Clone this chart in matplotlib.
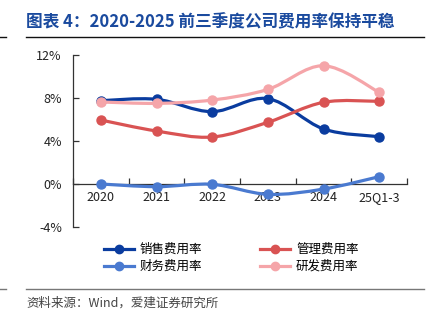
import numpy as np
import matplotlib

matplotlib.use('Agg')
import matplotlib.pyplot as plt
from matplotlib.path import Path
from matplotlib.patches import PathPatch
from matplotlib.lines import Line2D

plt.rcParams['font.family'] = ['Noto Sans CJK SC', 'DejaVu Sans']

# data (% of revenue)
years = ['2020', '2021', '2022', '2023', '2024', '25Q1-3']
sales_rate = [7.75, 7.88, 6.73, 7.94, 5.12, 4.40]
admin_rate = [5.95, 4.93, 4.37, 5.74, 7.60, 7.69]
finance_rate = [0.00, -0.25, -0.03, -0.96, -0.47, 0.68]
rd_rate = [7.63, 7.50, 7.81, 8.80, 11.00, 8.53]

series_names = ['销售费用率', '管理费用率', '财务费用率', '研发费用率']
series_colors = ['#0A3C9F', '#D95353', '#4A7AD0', '#F5A5A9']
y_ticks = [-4, 0, 4, 8, 12]


def smooth_path(xs, ys):
    # bezier through every point, control points from neighbours (office style smoothing)
    pts = np.column_stack([xs, ys]).astype(float)
    n = len(pts)
    verts = [pts[0]]
    codes = [Path.MOVETO]
    for i in range(n - 1):
        p0 = pts[max(i - 1, 0)]
        p1 = pts[i]
        p2 = pts[i + 1]
        p3 = pts[min(i + 2, n - 1)]
        c1 = p1 + (p2 - p0) / 6.0
        c2 = p2 - (p3 - p1) / 6.0
        verts += [c1, c2, p2]
        codes += [Path.CURVE4] * 3
    return Path(verts, codes)


fig = plt.figure(figsize=(4.36, 3.29), dpi=100)
ax = fig.add_axes([73 / 436, 1 - 227 / 329, 334 / 436, 172 / 329])

x = np.arange(len(years))
all_series = [sales_rate, admin_rate, finance_rate, rd_rate]
for k, (vals, col) in enumerate(zip(all_series, series_colors)):
    patch = PathPatch(smooth_path(x, vals), facecolor='none', edgecolor=col,
                      lw=2.3, capstyle='round', joinstyle='round', zorder=3 + k * 0.1)
    ax.add_patch(patch)
    ax.plot(x, vals, ls='none', marker='o', ms=6.5, color=col, zorder=3.05 + k * 0.1)

ax.set_xlim(-0.5, len(years) - 0.5)
ax.set_ylim(-4, 12)
ax.set_yticks(y_ticks)
ax.set_yticklabels(['%d%%' % v for v in y_ticks])
ax.set_xticks(x)
ax.set_xticklabels(years)
ax.set_xticks(np.arange(-0.5, len(years), 1), minor=True)

for s in ['top', 'right']:
    ax.spines[s].set_visible(False)
ax.spines['bottom'].set_position(('data', 0))
ax.spines['left'].set_color('#333333')
ax.spines['bottom'].set_color('#333333')
ax.spines['left'].set_linewidth(0.9)
ax.spines['bottom'].set_linewidth(0.9)

ax.tick_params(axis='y', direction='in', length=4, width=0.9, color='#333333',
               labelsize=9, labelcolor='#222222', pad=8)
ax.tick_params(axis='x', which='major', length=0, labelsize=9, labelcolor='#222222', pad=5)
ax.tick_params(axis='x', which='minor', direction='in', length=4, width=0.9, color='#333333')

# legend
handles = [Line2D([], [], color=c, lw=2.3, marker='o', ms=6) for c in series_colors]
order = [0, 2, 1, 3]
fig.legend([handles[i] for i in order], [series_names[i] for i in order],
           ncol=2, loc='center', bbox_to_anchor=(0.53, 1 - 258 / 329), frameon=False,
           fontsize=9, handlelength=2.4, handletextpad=0.5, columnspacing=4.6,
           labelspacing=0.3)

# title and rules
fig.text(26 / 436, 1 - 22 / 329, '图表 4：2020-2025 前三季度公司费用率保持平稳',
         fontsize=12, fontweight='bold', color='#1A4A9E', va='center', ha='left')
fig.add_artist(Line2D([26 / 436, 424 / 436], [1 - 37 / 329] * 2, color='#111111', lw=1.0))
fig.add_artist(Line2D([0, 6 / 436], [1 - 37 / 329] * 2, color='#111111', lw=1.0))
fig.add_artist(Line2D([26 / 436, 424 / 436], [1 - 289 / 329] * 2, color='#777777', lw=1.0))
fig.add_artist(Line2D([0, 6 / 436], [1 - 289 / 329] * 2, color='#777777', lw=1.0))
fig.text(26 / 436, 1 - 303 / 329, '资料来源：Wind，爱建证券研究所', fontsize=9,
         color='#444444', va='center', ha='left')

fig.savefig('out.png', dpi=100)
